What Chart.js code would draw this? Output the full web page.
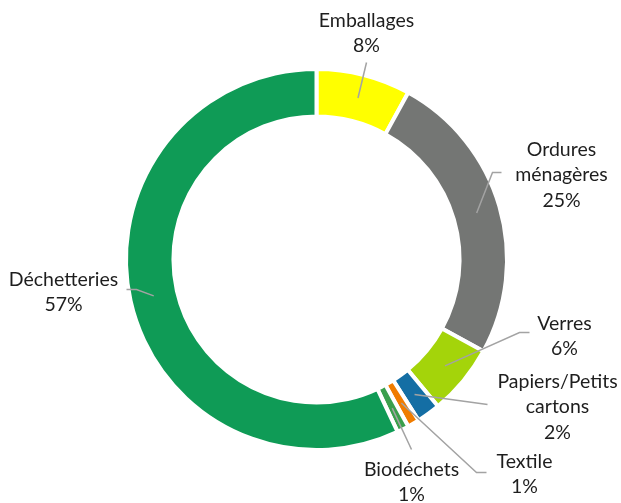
<!DOCTYPE html>
<html>
<head>
<meta charset="utf-8">
<script src="https://cdn.jsdelivr.net/npm/chart.js@4/dist/chart.umd.min.js"></script>
<style>
	html, body { margin: 0; padding: 0; background: #fff; }
	#wrap { width: 621px; height: 503px; }
</style>
</head>
<body>
<div id="wrap"><canvas id="wasteChart" width="621" height="503"></canvas></div>
<script>
	"use strict";

	// slices, clockwise from 12 o'clock
	var categories = [["Emballages"], ["Ordures", "ménagères"], ["Verres"], ["Papiers/Petits", "cartons"], ["Textile"], ["Biodéchets"], ["Déchetteries"]];
	var shares = [8, 25, 6, 2, 1, 1, 57];
	var sliceColors = ["#ffff00", "#747674", "#a4d40a", "#146ea4", "#f07c00", "#3a9f4c", "#0f9b56"];

	// label placement, offsets in px from the doughnut centre
	// text: centre of first line; elbow/end: leader line points
	var labelLayout = [
		{ text: [50, -239], end: [50, -197] },
		{ text: [245, -110], elbow: [176, -87], end: [185, -87] },
		{ text: [248, 64], elbow: [203, 73], end: [213, 73] },
		{ text: [241, 122], end: [171, 145] },
		{ text: [208, 202], elbow: [160, 213], end: [170, 213] },
		{ text: [95, 210], end: [95, 190] },
		{ text: [-253, 20], elbow: [-180, 30], end: [-190, 30] }
	];

	var outsideLabels = {
		id: "outsideLabels",
		afterDraw: function(chart) {
			var ctx = chart.ctx;
			var arcs = chart.getDatasetMeta(0).data;
			ctx.save();
			arcs.forEach(function(arc, i) {
				var p = arc.getProps(["x", "y", "startAngle", "endAngle", "innerRadius", "outerRadius"], true);
				var mid = (p.startAngle + p.endAngle) / 2;
				var r = (p.innerRadius + p.outerRadius) / 2;
				var lay = labelLayout[i];

				// leader line
				ctx.strokeStyle = "#a3a3a3";
				ctx.lineWidth = 1.5;
				ctx.beginPath();
				ctx.moveTo(p.x + Math.cos(mid) * r, p.y + Math.sin(mid) * r);
				if (lay.elbow) ctx.lineTo(p.x + lay.elbow[0], p.y + lay.elbow[1]);
				ctx.lineTo(p.x + lay.end[0], p.y + lay.end[1]);
				ctx.stroke();

				// label text
				var lines = categories[i].concat([shares[i] + "%"]);
				ctx.fillStyle = "#1e1e1e";
				ctx.font = "19.5px Lato";
				ctx.textAlign = "center";
				ctx.textBaseline = "middle";
				lines.forEach(function(t, k) {
					ctx.fillText(t, p.x + lay.text[0], p.y + lay.text[1] + k * 25.5);
				});
			});
			ctx.restore();
		}
	};

	new Chart(document.getElementById("wasteChart").getContext("2d"), {
		type: "doughnut",
		data: {
			labels: categories.map(function(c) { return c.join(" "); }),
			datasets: [{
				data: shares,
				backgroundColor: sliceColors,
				borderColor: "#ffffff",
				borderWidth: 4
			}]
		},
		options: {
			responsive: false,
			animation: false,
			cutout: "75.1%",
			layout: {
				padding: { top: 67, bottom: 51, left: 124, right: 112 }
			},
			plugins: {
				legend: { display: false },
				tooltip: { enabled: false }
			}
		},
		plugins: [outsideLabels]
	});
</script>
</body>
</html>
